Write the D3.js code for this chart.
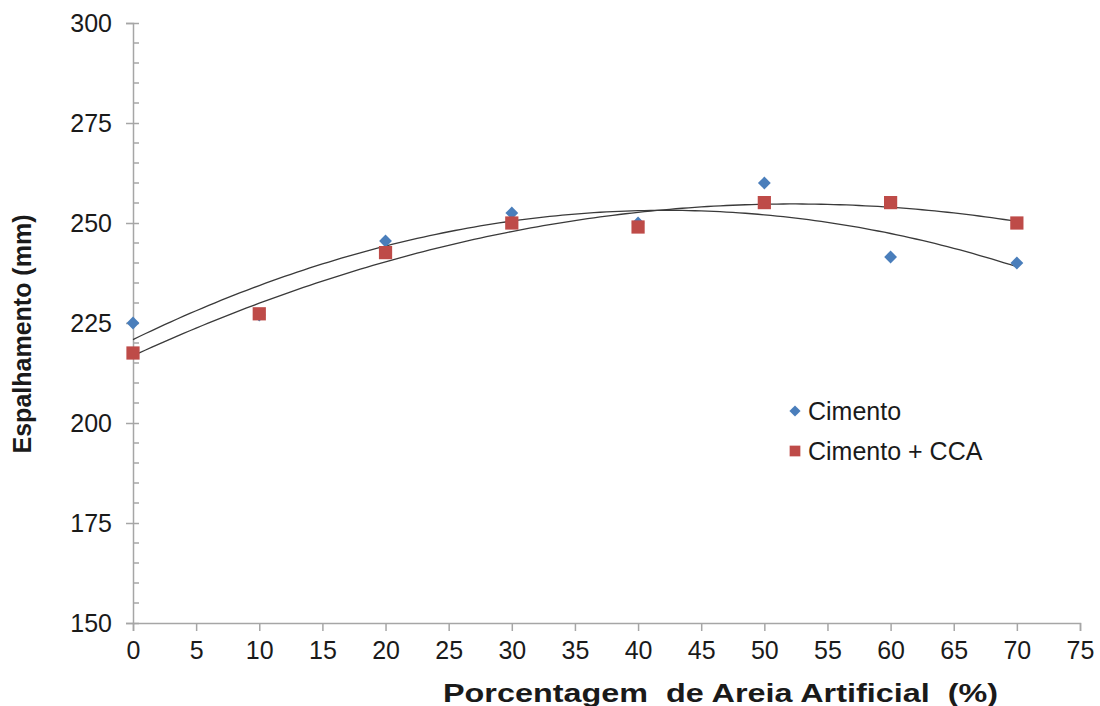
<!DOCTYPE html>
<html>
<head>
<meta charset="utf-8" />
<script src="https://cdn.jsdelivr.net/npm/d3@7"></script>
<style>
  body { margin: 0; background: #fff; }
  text { font-family: "Liberation Sans", Arial, sans-serif; fill: #1a1a1a; }
  .tick text { font-size: 25px; }
  .axis-title { font-size: 25px; font-weight: bold; }
  .legend text { font-size: 25px; }
</style>
</head>
<body>
<div id="chart"></div>
<script>
// data (the 10% Cimento point sits hidden behind the red square)
var cimentoX = [0, 10, 20, 30, 40, 50, 60, 70];
var cimentoY = [225, 227, 245.5, 252.5, 250, 260, 241.5, 240];
var ccaX = [0, 10, 20, 30, 40, 50, 60, 70];
var ccaY = [217.5, 227.3, 242.6, 250, 249, 255.1, 255.1, 250];
var xTicks = [0, 5, 10, 15, 20, 25, 30, 35, 40, 45, 50, 55, 60, 65, 70, 75];
var yTicks = [150, 175, 200, 225, 250, 275, 300];
var seriesNames = ["Cimento", "Cimento + CCA"];

var width = 1100, height = 706;
var plotLeft = 133, plotRight = 1080, plotTop = 23, plotBottom = 623;

var svg = d3.select('#chart').append('svg')
  .attr('width', width)
  .attr('height', height);

var x = d3.scaleLinear().domain([0, 75]).range([plotLeft, plotRight]);
var y = d3.scaleLinear().domain([150, 300]).range([plotBottom, plotTop]);

// quadratic least squares (the excel "polynomial, order 2" trendline)
function polyFit(xs, ys) {
  var s = [0, 0, 0, 0, 0], t = [0, 0, 0];
  xs.forEach(function(xv, i) {
    for (var k = 0; k < 5; k++) s[k] += Math.pow(xv, k);
    for (var k2 = 0; k2 < 3; k2++) t[k2] += ys[i] * Math.pow(xv, k2);
  });
  var m = [[s[0], s[1], s[2], t[0]], [s[1], s[2], s[3], t[1]], [s[2], s[3], s[4], t[2]]];
  for (var i = 0; i < 3; i++) {
    for (var j = i + 1; j < 3; j++) {
      var f = m[j][i] / m[i][i];
      for (var c = i; c < 4; c++) m[j][c] -= f * m[i][c];
    }
  }
  var a = [0, 0, 0];
  for (var i2 = 2; i2 >= 0; i2--) {
    var v = m[i2][3];
    for (var c2 = i2 + 1; c2 < 3; c2++) v -= m[i2][c2] * a[c2];
    a[i2] = v / m[i2][i2];
  }
  return function(xv) { return a[0] + a[1] * xv + a[2] * xv * xv; };
}

var axisColor = '#a6a6a6';

// y axis
var yAxis = svg.append('g')
  .attr('transform', 'translate(' + plotLeft + ',0)')
  .call(d3.axisLeft(y).tickValues(yTicks).tickSize(7).tickPadding(14));
yAxis.selectAll('.tick line').attr('x2', -7).attr('x1', 6);
// minor ticks inside
yAxis.selectAll('.minor').data(d3.range(150, 301, 5).filter(function(d) { return d % 25 !== 0; }))
  .enter().append('line')
  .attr('class', 'minor')
  .attr('x1', 0).attr('x2', 6)
  .attr('y1', function(d) { return y(d); }).attr('y2', function(d) { return y(d); })
  .attr('stroke', axisColor);

// x axis
var xAxis = svg.append('g')
  .attr('transform', 'translate(0,' + plotBottom + ')')
  .call(d3.axisBottom(x).tickValues(xTicks).tickSize(8).tickPadding(10));

svg.selectAll('.domain').attr('stroke', axisColor).attr('stroke-width', 1.5);
svg.selectAll('.tick line').attr('stroke', axisColor).attr('stroke-width', 1.5);
svg.selectAll('.minor').attr('stroke-width', 1.5);
svg.selectAll('.tick text').attr('fill', '#1a1a1a');

// trendlines
var line = d3.line()
  .x(function(d) { return x(d[0]); })
  .y(function(d) { return y(d[1]); });

[[cimentoX, cimentoY], [ccaX, ccaY]].forEach(function(s) {
  var fit = polyFit(s[0], s[1]);
  var pts = d3.range(0, 70.01, 0.5).map(function(v) { return [v, fit(v)]; });
  svg.append('path')
    .attr('d', line(pts))
    .attr('fill', 'none')
    .attr('stroke', '#3a3a3a')
    .attr('stroke-width', 1.3);
});

// markers
var blue = '#4a7ebb', red = '#be4b48';
var diamond = d3.symbol().type(d3.symbolDiamond2).size(105);
var square = d3.symbol().type(d3.symbolSquare).size(175);

svg.selectAll('.cim').data(cimentoX).enter().append('path')
  .attr('class', 'cim')
  .attr('d', diamond)
  .attr('transform', function(d, i) { return 'translate(' + x(d) + ',' + y(cimentoY[i]) + ')'; })
  .attr('fill', blue);

svg.selectAll('.cca').data(ccaX).enter().append('path')
  .attr('class', 'cca')
  .attr('d', square)
  .attr('transform', function(d, i) { return 'translate(' + x(d) + ',' + y(ccaY[i]) + ')'; })
  .attr('fill', red);

// legend
var legend = svg.append('g').attr('class', 'legend');
legend.append('path')
  .attr('d', d3.symbol().type(d3.symbolDiamond2).size(80))
  .attr('transform', 'translate(795,411)')
  .attr('fill', blue);
legend.append('path')
  .attr('d', d3.symbol().type(d3.symbolSquare).size(115))
  .attr('transform', 'translate(795,451)')
  .attr('fill', red);
legend.selectAll('text').data(seriesNames).enter().append('text')
  .attr('x', 808)
  .attr('y', function(d, i) { return 420 + i * 40; })
  .text(function(d) { return d; });

// axis titles
svg.append('text')
  .attr('class', 'axis-title')
  .attr('transform', 'translate(31,334) rotate(-90)')
  .attr('text-anchor', 'middle')
  .text('Espalhamento (mm)');

svg.append('text')
  .attr('class', 'axis-title')
  .attr('x', 443)
  .attr('y', 702)
  .attr('textLength', 555)
  .attr('lengthAdjust', 'spacingAndGlyphs')
  .style('white-space', 'pre')
  .text('Porcentagem  de Areia Artificial  (%)');
</script>
</body>
</html>
